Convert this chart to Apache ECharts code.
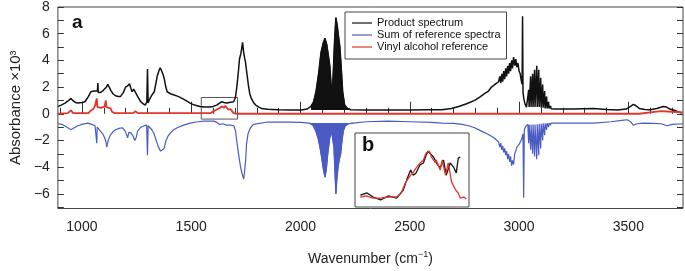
<!DOCTYPE html>
<html>
<head>
<meta charset="utf-8">
<script src="https://cdn.jsdelivr.net/npm/echarts@6/dist/echarts.min.js"></script>
<style>
  html, body { margin: 0; padding: 0; background: #fff; }
  #chart { width: 685px; height: 271px; }
</style>
</head>
<body>
<div id="chart"></div>
<script>
// tick / label positions
const xLabelValues = [1000, 1500, 2000, 2500, 3000, 3500]
const xMinorTicks = [900, 1100, 1200, 1300, 1400, 1600, 1700, 1800, 1900, 2100, 2200, 2300, 2400, 2600, 2700, 2800, 2900, 3100, 3200, 3300, 3400, 3600, 3700]
const yLabelValues = [-6, -4, -2, 0, 2, 4, 6, 8]
const yTickValues = [-7, -6, -5, -4, -3, -2, -1, 0, 1, 2, 3, 4, 5, 6, 7, 8]

// product spectrum [wavenumber, absorbance x10^3]
const product = [
  [891, 0.55], [905, 0.65], [923, 0.8], [940, 1.0], [950, 1.15], [958, 1.0], [970, 0.85], [982, 0.8],
  [1000, 0.85], [1014, 0.9], [1030, 1.3], [1041, 1.65], [1055, 1.7], [1064, 1.75], [1071, 1.7], [1073, 2.3],
  [1075, 1.6], [1085, 1.6], [1095, 1.7], [1104, 1.75], [1112, 2.0], [1118, 2.2], [1125, 2.0], [1132, 1.75],
  [1142, 1.5], [1154, 1.35], [1165, 1.3], [1177, 1.3], [1190, 1.6], [1200, 2.0], [1210, 2.1], [1218, 2.25],
  [1224, 1.9], [1230, 1.65], [1237, 1.85], [1245, 1.75], [1255, 1.3], [1268, 0.93], [1280, 0.75], [1290, 0.65],
  [1297, 0.9], [1300, 3.35], [1303, 0.8], [1310, 1.1], [1320, 1.4], [1331, 1.65], [1340, 2.4], [1345, 2.85],
  [1352, 3.2], [1358, 3.45], [1365, 3.2], [1372, 2.9], [1377, 2.6], [1384, 2.0], [1390, 1.65], [1405, 1.5],
  [1422, 1.4], [1440, 1.3], [1458, 1.15], [1475, 1.0], [1495, 0.8], [1515, 0.65], [1540, 0.55], [1560, 0.5],
  [1585, 0.5], [1600, 0.55], [1617, 0.65], [1630, 0.8], [1640, 0.9], [1650, 0.85], [1662, 0.8], [1675, 0.85],
  [1694, 0.9], [1702, 1.2], [1708, 1.9], [1715, 3.0], [1721, 4.1], [1727, 4.5], [1731, 4.9], [1735, 5.35],
  [1740, 4.6], [1744, 4.2], [1748, 3.9], [1755, 3.0], [1762, 2.1], [1768, 1.5], [1775, 1.15], [1785, 0.85],
  [1795, 0.65], [1810, 0.5], [1821, 0.4], [1850, 0.33], [1898, 0.3], [1950, 0.28], [2003, 0.28], [2030, 0.35],
  [2048, 0.55], [2060, 0.9], [2071, 1.65], [2083, 3.0], [2094, 4.6], [2104, 5.3], [2112, 5.65], [2120, 5.2],
  [2128, 4.3], [2134, 3.6], [2140, 2.2], [2143, 1.3], [2147, 1.9], [2151, 3.5], [2156, 5.5], [2162, 7.2],
  [2168, 6.6], [2174, 5.8], [2180, 5.05], [2187, 3.3], [2193, 1.65], [2202, 0.65], [2215, 0.4], [2230, 0.3],
  [2300, 0.28], [2400, 0.28], [2500, 0.28], [2580, 0.3], [2647, 0.3], [2690, 0.4], [2724, 0.55], [2760, 0.75],
  [2797, 1.0], [2820, 1.25], [2842, 1.5], [2860, 1.7], [2874, 2.0], [2890, 2.2], [2906, 2.4], [2912, 2.8],
  [2916, 2.3], [2921, 3.0], [2925, 2.4], [2930, 3.2], [2934, 2.6], [2939, 3.4], [2943, 2.8], [2948, 3.6],
  [2952, 3.0], [2957, 3.8], [2961, 3.2], [2966, 4.0], [2970, 3.4], [2975, 4.25], [2980, 3.6], [2985, 4.1],
  [2990, 3.5], [2995, 3.8], [3000, 3.2], [3005, 3.0], [3010, 2.5], [3014, 2.2], [3016, 7.3], [3018, 1.6],
  [3022, 1.1], [3028, 0.7], [3034, 0.5], [3040, 0.45], [3044, 1.8], [3046, 0.5], [3053, 2.8], [3055, 0.5],
  [3062, 3.0], [3064, 0.5], [3071, 3.3], [3073, 0.5], [3081, 3.6], [3083, 0.5], [3090, 3.3], [3092, 0.5],
  [3099, 2.7], [3101, 0.45], [3108, 2.2], [3110, 0.45], [3117, 1.7], [3119, 0.4], [3126, 1.3], [3128, 0.4],
  [3135, 0.9], [3137, 0.4], [3144, 0.6], [3146, 0.38], [3160, 0.36], [3250, 0.35], [3341, 0.4], [3400, 0.32],
  [3450, 0.28], [3490, 0.35], [3510, 0.55], [3523, 0.7], [3535, 0.6], [3550, 0.4], [3575, 0.32], [3600, 0.3],
  [3630, 0.4], [3659, 0.55], [3675, 0.5], [3690, 0.35], [3720, 0.2], [3745, 0.05]
]

// sum of reference spectra (plotted offset, negative)
const refSum = [
  [891, -0.75], [910, -0.8], [930, -1.0], [950, -1.2], [965, -1.05], [982, -0.9], [1000, -0.8], [1027, -0.7],
  [1045, -0.8], [1060, -0.9], [1066, -1.0], [1068, -2.2], [1070, -1.0], [1080, -1.2], [1095, -1.5], [1104, -1.8],
  [1110, -2.1], [1114, -2.5], [1120, -2.0], [1130, -1.6], [1142, -1.35], [1154, -1.2], [1170, -1.1], [1186, -1.05],
  [1198, -1.3], [1205, -1.6], [1209, -1.8], [1215, -1.4], [1225, -1.45], [1235, -1.7], [1242, -2.0], [1248, -1.8],
  [1255, -1.3], [1270, -1.0], [1286, -0.9], [1296, -0.85], [1300, -3.1], [1303, -0.9], [1310, -1.0], [1320, -1.2],
  [1330, -1.5], [1340, -2.0], [1350, -2.5], [1360, -2.8], [1368, -2.9], [1376, -2.6], [1385, -2.0], [1395, -1.65],
  [1404, -1.45], [1420, -1.2], [1436, -1.05], [1465, -0.85], [1495, -0.7], [1530, -0.6], [1558, -0.55], [1580, -0.55],
  [1603, -0.55], [1618, -0.65], [1630, -0.8], [1645, -0.75], [1662, -0.85], [1680, -0.85], [1695, -0.9], [1703, -1.3],
  [1708, -2.0], [1715, -2.8], [1720, -3.4], [1726, -4.0], [1733, -4.5], [1740, -4.9], [1745, -4.2], [1749, -3.5],
  [1753, -2.3], [1760, -1.5], [1771, -1.05], [1785, -0.8], [1794, -0.7], [1850, -0.62], [1950, -0.62], [2000, -0.65],
  [2040, -0.7], [2057, -0.85], [2070, -1.3], [2080, -1.8], [2089, -2.5], [2098, -3.4], [2105, -4.2], [2112, -4.75],
  [2118, -4.2], [2125, -3.0], [2134, -1.8], [2142, -1.3], [2148, -1.2], [2153, -2.5], [2158, -4.5], [2162, -6.0],
  [2166, -5.0], [2172, -4.0], [2178, -3.4], [2184, -3.0], [2190, -2.0], [2196, -1.3], [2205, -0.9], [2220, -0.75],
  [2240, -0.7], [2300, -0.6], [2400, -0.55], [2500, -0.6], [2600, -0.65], [2647, -0.7], [2700, -0.72], [2740, -0.8],
  [2769, -0.9], [2797, -1.05], [2828, -1.3], [2860, -1.55], [2885, -1.8], [2906, -2.1], [2912, -2.5], [2916, -2.2],
  [2921, -2.7], [2925, -2.4], [2930, -2.9], [2934, -2.6], [2939, -3.1], [2943, -2.8], [2948, -3.4], [2952, -3.0],
  [2957, -3.6], [2961, -3.2], [2966, -3.9], [2970, -3.5], [2975, -3.8], [2980, -3.0], [2985, -2.8], [2990, -2.5],
  [2995, -2.6], [3000, -2.3], [3006, -2.3], [3012, -1.9], [3018, -1.5], [3021, -6.3], [3024, -1.2], [3030, -0.95],
  [3036, -0.85], [3040, -0.8], [3044, -2.2], [3046, -0.8], [3053, -2.7], [3055, -0.8], [3062, -3.0], [3064, -0.8],
  [3071, -3.2], [3073, -0.8], [3081, -3.4], [3083, -0.78], [3090, -3.1], [3092, -0.75], [3099, -2.6], [3101, -0.75],
  [3108, -2.0], [3110, -0.72], [3117, -1.6], [3119, -0.72], [3126, -1.2], [3128, -0.7], [3135, -1.0], [3137, -0.7],
  [3144, -0.85], [3146, -0.7], [3160, -0.7], [3250, -0.7], [3341, -0.7], [3420, -0.6], [3470, -0.5], [3495, -0.45],
  [3510, -0.6], [3523, -0.85], [3540, -0.75], [3570, -0.7], [3610, -0.72], [3650, -0.75], [3677, -0.9], [3700, -0.8],
  [3750, -0.75]
]

// vinyl alcohol reference
const vinyl = [
  [891, 0.0], [935, 0.05], [950, 0.25], [960, 0.05], [1030, 0.05], [1041, 0.25], [1052, 0.35], [1059, 0.55],
  [1065, 0.5], [1068, 1.15], [1071, 0.5], [1080, 0.5], [1090, 0.45], [1098, 0.4], [1104, 0.55], [1109, 1.0],
  [1112, 0.5], [1120, 0.45], [1131, 0.4], [1138, 0.15], [1150, 0.05], [1235, 0.05], [1245, 0.2], [1255, 0.05],
  [1590, 0.05], [1603, 0.2], [1615, 0.3], [1626, 0.4], [1640, 0.55], [1650, 0.45], [1656, 0.6], [1662, 0.55],
  [1670, 0.3], [1680, 0.35], [1694, 0.05], [1710, 0.0], [2500, 0.0], [3550, 0.0], [3600, 0.1], [3650, 0.2],
  [3700, 0.15], [3750, 0.1]
]

// inset b (zoom of 1550-1710 region, arbitrary units)
const insetProduct = [
  [1553, 1.6], [1563, 1.9], [1572, 1.35], [1583, 0.95], [1595, 1.5], [1607, 1.2], [1617, 2.3], [1623, 3.9],
  [1628, 5.0], [1632, 4.3], [1636, 4.6], [1642, 5.7], [1647, 5.95], [1651, 7.0], [1654, 7.55], [1662, 6.75],
  [1668, 5.7], [1672, 5.3], [1677, 6.35], [1681, 4.3], [1687, 5.95], [1692, 5.4], [1696, 4.6], [1699, 6.6],
  [1702, 6.75]
]
const insetVinyl = [
  [1553, 1.35], [1562, 1.5], [1572, 1.2], [1583, 1.2], [1595, 1.35], [1607, 1.35], [1614, 1.9], [1620, 3.25],
  [1628, 4.3], [1632, 4.7], [1636, 5.25], [1642, 5.95], [1647, 6.35], [1651, 7.3], [1656, 7.55], [1659, 6.75],
  [1665, 5.95], [1666, 6.35], [1672, 5.0], [1675, 6.35], [1680, 4.3], [1684, 5.95], [1689, 3.4], [1695, 2.3],
  [1699, 1.9], [1702, 1.2], [1707, 1.35], [1711, 1.1]
]

const BLACK = '#111'
const BLUE = '#4a5cc4'
const RED = '#e0362c'
const FONT = 'Liberation Sans, Arial, sans-serif'

const chart = echarts.init(document.getElementById('chart'))

const minus = v => String(v).replace('-', '\u2212')

const option = {
  animation: false,
  textStyle: { fontFamily: FONT },
  grid: [
    { left: 53, right: 2, top: 7, bottom: 59, show: true, borderColor: '#444', borderWidth: 1 },
    { left: 355, top: 133, width: 114, height: 74, show: true, borderColor: '#444', borderWidth: 1, backgroundColor: '#fff', z: 5 }
  ],
  legend: {
    orient: 'vertical',
    left: 345,
    top: 12,
    padding: [5, 6, 6, 7],
    itemGap: 0,
    icon: 'rect',
    itemWidth: 20,
    itemHeight: 1.2,
    borderColor: '#444',
    borderWidth: 1,
    borderRadius: 0,
    backgroundColor: '#fff',
    textStyle: { fontSize: 11, color: '#111', fontFamily: FONT, lineHeight: 12 },
    data: ['Product spectrum', 'Sum of reference spectra', 'Vinyl alcohol reference']
  },
  xAxis: [
    {
      type: 'value', gridIndex: 0, min: 890, max: 3750, position: 'bottom',
      axisLine: { show: false }, splitLine: { show: false },
      axisTick: { inside: true, length: 12, customValues: xLabelValues, lineStyle: { color: '#333' } },
      axisLabel: { customValues: xLabelValues, fontSize: 14, color: '#222', margin: 12, fontFamily: FONT, formatter: v => String(v) },
      name: 'Wavenumber (cm{sup|\u22121})',
      nameLocation: 'middle',
      nameGap: 42,
      nameTextStyle: {
        fontSize: 14, color: '#222', fontFamily: FONT,
        rich: { sup: { fontSize: 9, verticalAlign: 'bottom', padding: [0, 0, 8, 0], color: '#222', fontFamily: FONT } }
      }
    },
    {
      type: 'value', gridIndex: 0, min: 890, max: 3750, position: 'bottom',
      axisLine: { show: false }, splitLine: { show: false },
      axisTick: { inside: true, length: 6, customValues: xMinorTicks, lineStyle: { color: '#333' } },
      axisLabel: { show: false }
    },
    { type: 'value', gridIndex: 1, min: 1545, max: 1715, show: false }
  ],
  yAxis: [
    {
      type: 'value', gridIndex: 0, min: -7.1, max: 8, position: 'left',
      axisLine: { show: false }, splitLine: { show: false },
      axisTick: { inside: true, length: 6, customValues: yTickValues, lineStyle: { color: '#333' } },
      axisLabel: { customValues: yLabelValues, fontSize: 14, color: '#222', margin: 8, formatter: minus, fontFamily: FONT },
      name: 'Absorbance \u00d710\u00b3',
      nameLocation: 'middle',
      nameGap: 33,
      nameTextStyle: { fontSize: 15, color: '#222', fontFamily: FONT }
    },
    {
      type: 'value', gridIndex: 0, min: -7.1, max: 8, position: 'right',
      axisLine: { show: false }, splitLine: { show: false },
      axisTick: { inside: true, length: 6, customValues: yTickValues, lineStyle: { color: '#333' } },
      axisLabel: { show: false }
    },
    { type: 'value', gridIndex: 1, min: 0, max: 10, show: false }
  ],
  graphic: [
    { type: 'text', left: 72, top: 13, style: { text: 'a', font: 'bold 19px ' + FONT, fill: '#111' } },
    { type: 'text', left: 362, top: 135, z: 100, style: { text: 'b', font: 'bold 20px ' + FONT, fill: '#111' } }
  ],
  series: [
    {
      name: 'Product spectrum', type: 'line', data: product, symbol: 'none',
      lineStyle: { color: BLACK, width: 1.5 }, itemStyle: { color: BLACK },
      markArea: {
        silent: true,
        itemStyle: { color: 'rgba(0,0,0,0)', borderColor: '#555', borderWidth: 1 },
        data: [[{ coord: [1546, -0.4] }, { coord: [1712, 1.22] }]]
      }
    },
    {
      name: 'product band', type: 'line', symbol: 'none',
      data: product.filter(p => p[0] >= 2040 && p[0] <= 2235),
      lineStyle: { color: BLACK, width: 1 },
      areaStyle: { color: BLACK, opacity: 1, origin: 0.28 }
    },
    {
      name: 'Sum of reference spectra', type: 'line', data: refSum, symbol: 'none',
      lineStyle: { color: BLUE, width: 1.2 }, itemStyle: { color: BLUE }
    },
    {
      name: 'reference band', type: 'line', symbol: 'none',
      data: refSum.filter(p => p[0] >= 2040 && p[0] <= 2240),
      lineStyle: { color: BLUE, width: 1 },
      areaStyle: { color: BLUE, opacity: 1, origin: -0.7 }
    },
    {
      name: 'Vinyl alcohol reference', type: 'line', data: vinyl, symbol: 'none',
      lineStyle: { color: RED, width: 1.8 }, itemStyle: { color: RED }
    },
    {
      name: 'inset product', type: 'line', xAxisIndex: 2, yAxisIndex: 2, data: insetProduct, symbol: 'none',
      lineStyle: { color: BLACK, width: 1.3 }, z: 10
    },
    {
      name: 'inset vinyl', type: 'line', xAxisIndex: 2, yAxisIndex: 2, data: insetVinyl, symbol: 'none',
      lineStyle: { color: RED, width: 1.3 }, z: 11
    }
  ]
}

chart.setOption(option)
</script>
</body>
</html>
